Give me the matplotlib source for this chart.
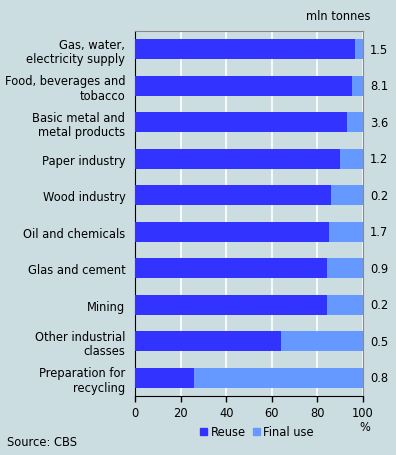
import numpy as np
import matplotlib.pyplot as plt
from matplotlib.patches import Patch

plt.rcParams['font.family'] = ['DejaVu Sans']

# Data
categories = ["Gas, water,\nelectricity supply", "Food, beverages and\ntobacco",
              "Basic metal and\nmetal products", "Paper industry", "Wood industry",
              "Oil and chemicals", "Glas and cement", "Mining",
              "Other industrial\nclasses", "Preparation for\nrecycling"]
reuse = [96.4, 95.0, 92.8, 89.8, 85.8, 85.0, 84.1, 84.1, 63.9, 25.7]
final_use = [100 - r for r in reuse]
tonnes = ["1.5", "8.1", "3.6", "1.2", "0.2", "1.7", "0.9", "0.2", "0.5", "0.8"]
xticks = [0, 20, 40, 60, 80, 100]

bg = '#CCDDE2'
dark = '#3333FF'
light = '#6699FF'
fs = 8.3

fig = plt.figure(figsize=(3.96, 4.56), dpi=100, facecolor=bg)
ax = fig.add_axes([135/396, 59/456, 228/396, 365/456], facecolor=bg)

y = np.arange(len(categories))
ax.barh(y, reuse, height=0.56, color=dark, zorder=3)
ax.barh(y, final_use, left=reuse, height=0.56, color=light, zorder=3)

ax.set_xlim(0, 100)
ax.set_ylim(len(categories) - 0.5, -0.5)
ax.set_xticks(xticks)
ax.set_xticklabels([str(t) for t in xticks], fontsize=fs)
ax.set_yticks(y)
ax.set_yticklabels(categories, fontsize=fs, linespacing=1.15)
ax.tick_params(axis='y', length=0, pad=7)
ax.tick_params(axis='x', length=4, width=1, color='black', pad=3)

ax.grid(axis='x', color='white', linewidth=1.2, zorder=1)
ax.spines['left'].set_color('black')
ax.spines['bottom'].set_color('black')
ax.spines['top'].set_color('#888888')
ax.spines['right'].set_color('#888888')

# values to the right of the bars
for yi, t in zip(y, tonnes):
    ax.text(1.07, yi, t, transform=ax.get_yaxis_transform(), ha='center',
            va='center', fontsize=fs)

fig.text(338/396, 1 - 17/456, "mln tonnes", ha='center', va='center', fontsize=fs)
fig.text(365/396, 1 - 428/456, "%", ha='center', va='center', fontsize=fs)
fig.text(7/396, 1 - 443/456, "Source: CBS", ha='left', va='center', fontsize=fs)

handles = [Patch(color=dark, label='Reuse'), Patch(color=light, label='Final use')]
fig.legend(handles=handles, loc='center', bbox_to_anchor=(257/396, 1 - 433/456),
           ncol=2, frameon=False, fontsize=fs, handlelength=0.6, handleheight=0.6,
           handletextpad=0.3, columnspacing=0.6)

fig.savefig('out.png', dpi=100, facecolor=bg)
